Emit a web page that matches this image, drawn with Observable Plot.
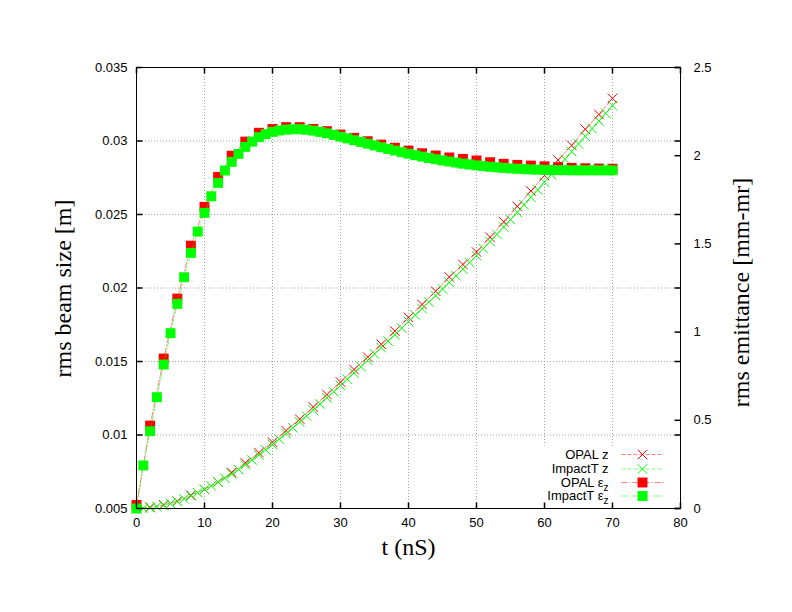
<!DOCTYPE html>
<html><head><meta charset="utf-8">
<script src="https://cdn.jsdelivr.net/npm/d3@7"></script>
<script src="https://cdn.jsdelivr.net/npm/@observablehq/plot@0.6"></script>
<style>html,body{margin:0;padding:0;background:#fff;}</style>
</head><body><div id="chart"></div>
<script>
// ---- data ----
const tOpal = [0,2,4,6,8,10,12,14,16,18,20,22,24,26,28,30,32,34,36,38,40,42,44,46,48,50,52,54,56,58,60,62,64,66,68,70];
const opalZ = [0.00500,0.00508,0.00525,0.00550,0.00590,0.00630,0.00680,0.00745,0.00810,0.00880,
  0.00951,0.01030,0.01108,0.01190,0.01275,0.01360,0.01445,0.01530,0.01617,0.01707,
  0.01800,0.01888,0.01978,0.02075,0.02160,0.02245,0.02345,0.02450,0.02555,0.02660,
  0.02765,0.02870,0.02970,0.03080,0.03180,0.03290];
const opalEps = [0.02,0.47,0.85,1.19,1.49,1.71,1.88,2.00,2.08,2.13,
  2.152,2.162,2.162,2.152,2.139,2.120,2.101,2.082,2.063,2.045,
  2.029,2.014,2.001,1.990,1.982,1.973,1.963,1.954,1.948,1.944,
  1.940,1.935,1.931,1.929,1.927,1.926];
const tImpact = [0,1,2,3,4,5,6,7,8,9,10,11,12,13,14,15,16,17,18,19,20,21,22,23,24,25,26,27,28,29,30,31,32,33,34,35,
  36,37,38,39,40,41,42,43,44,45,46,47,48,49,50,51,52,53,54,55,56,57,58,59,60,61,62,63,64,65,66,67,68,69,70];
const impactZ = [0.00500,0.00502,0.00506,0.00513,0.00522,0.00534,0.00548,0.00566,0.00586,0.00607,
  0.00630,0.00654,0.00679,0.00706,0.00735,0.00765,0.00797,0.00830,0.00864,0.00899,
  0.00935,0.00972,0.01010,0.01049,0.01089,0.01129,0.01170,0.01211,0.01253,0.01295,
  0.01337,0.01380,0.01422,0.01465,0.01508,0.01551,0.01594,0.01638,0.01682,0.01727,
  0.01772,0.01816,0.01860,0.01904,0.01948,0.01993,0.02038,0.02083,0.02128,0.02174,
  0.02220,0.02268,0.02316,0.02365,0.02415,0.02465,0.02515,0.02566,0.02617,0.02668,
  0.02720,0.02772,0.02824,0.02876,0.02928,0.02980,0.03032,0.03084,0.03136,0.03188,0.03240];
const impactEps = [0.000,0.244,0.438,0.631,0.816,0.994,1.160,1.311,1.449,1.570,
  1.676,1.770,1.846,1.916,1.965,2.010,2.050,2.080,2.105,2.122,
  2.135,2.143,2.148,2.150,2.150,2.147,2.142,2.135,2.127,2.118,
  2.108,2.098,2.088,2.078,2.068,2.058,2.048,2.038,2.029,2.020,
  2.011,2.003,1.995,1.987,1.980,1.973,1.967,1.961,1.955,1.950,
  1.945,1.941,1.937,1.934,1.931,1.928,1.926,1.924,1.922,1.921,
  1.920,1.919,1.918,1.918,1.917,1.917,1.917,1.917,1.917,1.917,1.917];

const xTicks = [0,10,20,30,40,50,60,70,80];
const xTickLabels = ["0","10","20","30","40","50","60","70","80"];
const yTicks = [0.005,0.010,0.015,0.020,0.025,0.030,0.035];
const yTickLabels = ["0.005","0.01","0.015","0.02","0.025","0.03","0.035"];
const y2Ticks = [0,0.5,1,1.5,2,2.5];
const y2TickLabels = ["0","0.5","1","1.5","2","2.5"];
const xDomain = [0,80];
const yDomain = [0.005,0.035];
const y2Domain = [0,2.5];
const legendLabels = ["OPAL z","ImpactT z","OPAL εz","ImpactT εz"];
const xTitle = "t (nS)";
const yTitle = "rms beam size [m]";
const y2Title = "rms emittance [mm-mr]";

// ---- build ----
const toLeft = v => yDomain[0] + (v - y2Domain[0]) * (yDomain[1] - yDomain[0]) / (y2Domain[1] - y2Domain[0]);
const opalZData = tOpal.map((t,i) => ({t, v: opalZ[i]}));
const impactZData = tImpact.map((t,i) => ({t, v: impactZ[i]}));
const opalEpsData = tOpal.map((t,i) => ({t, v: toLeft(opalEps[i])}));
const impactEpsData = tImpact.map((t,i) => ({t, v: toLeft(impactEps[i])}));

const RED = "#ff0000", GREEN = "#00ff00";
const seg = (dx,dy) => ({draw(ctx){ ctx.moveTo(0,0); ctx.lineTo(dx,dy); }});
const tickUp = seg(0,-6), tickDown = seg(0,6), tickRight = seg(6,0), tickLeft = seg(-6,0);
const sampleLine = {draw(ctx){ ctx.moveTo(-21,0); ctx.lineTo(21,0); }};
const serif = "'Liberation Serif','Times New Roman',serif";

const series = [
  {data: opalZData, color: RED, symbol: "times", dash: "4,2"},
  {data: impactZData, color: GREEN, symbol: "times", dash: "4,2"},
  {data: opalEpsData, color: RED, symbol: "square", dash: "6,2,1,2"},
  {data: impactEpsData, color: GREEN, symbol: "square", dash: "6,2,1,2"}
];
const seriesMarks = series.flatMap(s => [
  Plot.line(s.data, {x: "t", y: "v", stroke: s.color, strokeOpacity: 0.5, strokeWidth: 1, strokeDasharray: s.dash}),
  s.symbol === "times"
    ? Plot.dot(s.data, {x: "t", y: "v", symbol: "times", r: 4.4, stroke: s.color, strokeWidth: 1})
    : Plot.dot(s.data, {x: "t", y: "v", symbol: "square", r: 5.6, fill: s.color, stroke: "none"})
]);

const legendDy = [-54, -39.5, -26, -12.5];
const legendMarks = series.flatMap((s, i) => [
  Plot.dot([0], {frameAnchor: "bottom-right", dx: -38, dy: legendDy[i], symbol: sampleLine, fill: "none", stroke: s.color, strokeOpacity: 0.5, strokeWidth: 1, strokeDasharray: s.dash}),
  s.symbol === "times"
    ? Plot.dot([0], {frameAnchor: "bottom-right", dx: -38, dy: legendDy[i], symbol: "times", r: 4.4, stroke: s.color, strokeWidth: 1})
    : Plot.dot([0], {frameAnchor: "bottom-right", dx: -38, dy: legendDy[i], symbol: "square", r: 5.6, fill: s.color, stroke: "none"}),
  Plot.text([legendLabels[i]], {frameAnchor: "bottom-right", dx: -72, dy: legendDy[i], text: d => d, textAnchor: "end", lineAnchor: "middle"})
]);

const grid = {stroke: "#a0a0a0", strokeOpacity: 1, strokeWidth: 1, strokeDasharray: "1,2"};
const chart = Plot.plot({
  width: 792, height: 612,
  marginLeft: 136, marginRight: 112, marginTop: 67, marginBottom: 104,
  x: {domain: xDomain, axis: null},
  y: {domain: yDomain, axis: null},
  style: {fontFamily: "'Liberation Sans',Arial,sans-serif", fontSize: "13px", color: "black", background: "white"},
  marks: [
    Plot.gridX(xTicks.slice(1, -1), grid),
    Plot.gridY(yTicks.slice(1, -1), grid),
    Plot.frame({fill: "white", stroke: null, insetLeft: 404, insetTop: 378}),
    ...seriesMarks,
    ...legendMarks,
    Plot.frame({stroke: "black", strokeWidth: 1}),
    Plot.dot(xTicks, {x: d => d, frameAnchor: "bottom", symbol: tickUp, fill: "none", stroke: "black"}),
    Plot.dot(xTicks, {x: d => d, frameAnchor: "top", symbol: tickDown, fill: "none", stroke: "black"}),
    Plot.dot(yTicks, {y: d => d, frameAnchor: "left", symbol: tickRight, fill: "none", stroke: "black"}),
    Plot.dot(yTicks, {y: d => d, frameAnchor: "right", symbol: tickLeft, fill: "none", stroke: "black"}),
    Plot.dot(y2Ticks, {y: d => toLeft(d), frameAnchor: "right", symbol: tickLeft, fill: "none", stroke: "black"}),
    Plot.text(xTicks, {x: d => d, text: (d, i) => xTickLabels[i], frameAnchor: "bottom", dy: 9, lineAnchor: "top", textAnchor: "middle"}),
    Plot.text(yTicks, {y: d => d, text: (d, i) => yTickLabels[i], frameAnchor: "left", dx: -9, textAnchor: "end", lineAnchor: "middle"}),
    Plot.text(y2Ticks, {y: d => toLeft(d), text: (d, i) => y2TickLabels[i], frameAnchor: "right", dx: 13, textAnchor: "start", lineAnchor: "middle"}),
    Plot.text([yTitle], {text: d => d, frameAnchor: "left", dx: -66, dy: 0.5, rotate: -90, textAnchor: "middle", lineAnchor: "bottom", fontFamily: serif, fontSize: 24}),
    Plot.text([y2Title], {text: d => d, frameAnchor: "right", dx: 68, dy: 4.5, rotate: -90, textAnchor: "middle", lineAnchor: "bottom", fontFamily: serif, fontSize: 24}),
    Plot.text([xTitle], {text: d => d, frameAnchor: "bottom", dy: 46, textAnchor: "middle", lineAnchor: "bottom", fontFamily: serif, fontSize: 24})
  ]
});

// subscript z on the emittance legend entries
d3.select(chart).selectAll("text").each(function() {
  const s = this.textContent;
  if (s.endsWith("εz")) {
    const sel = d3.select(this);
    sel.text(s.slice(0, -1));
    sel.append("tspan").attr("dy", "4").attr("font-size", "10").text("z");
  }
});
document.getElementById("chart").appendChild(chart);
</script>
</body></html>
